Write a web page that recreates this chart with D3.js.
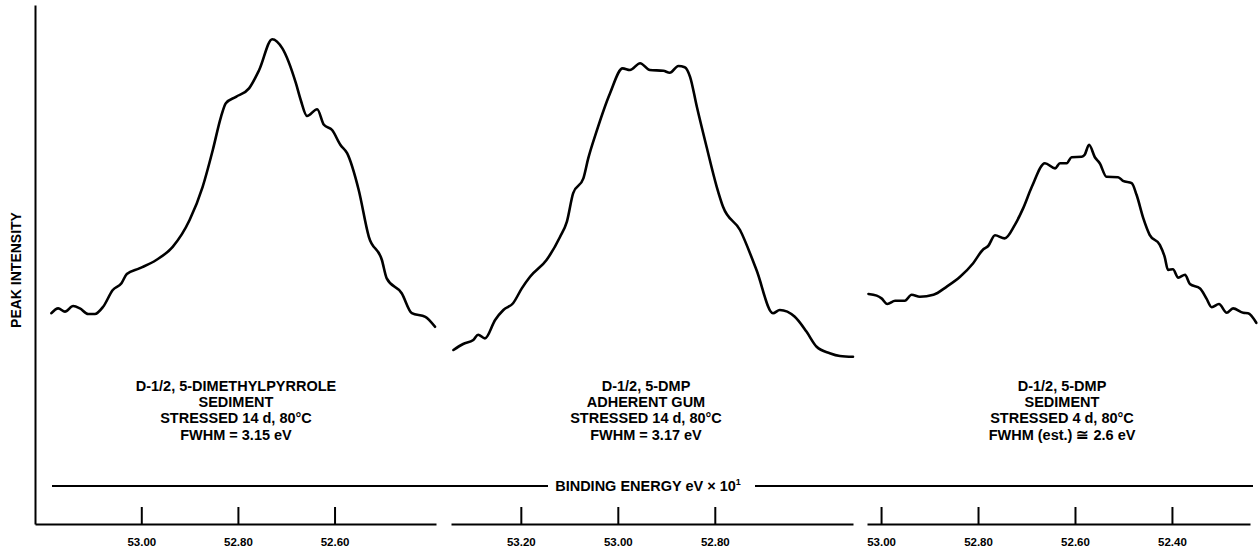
<!DOCTYPE html>
<html>
<head>
<meta charset="utf-8">
<script src="https://cdn.jsdelivr.net/npm/d3@7"></script>
<style>
  body { margin: 0; background: #fff; }
  svg text { font-family: "Liberation Sans", Arial, sans-serif; font-weight: bold; fill: #000; }
</style>
</head>
<body>
<div id="chart"></div>
<script>

// Binding energy (eV x 10) and peak intensity (arbitrary units).

var energy1 = [53.186, 53.172, 53.158, 53.141, 53.127, 53.110, 53.096, 53.079, 53.059, 53.041,
  53.030, 53.004, 52.969, 52.935, 52.900, 52.873, 52.852, 52.835, 52.825, 52.804,
  52.777, 52.756, 52.729, 52.708, 52.680, 52.670, 52.657, 52.636, 52.622, 52.605,
  52.588, 52.574, 52.550, 52.529, 52.502, 52.492, 52.461, 52.440, 52.412, 52.392];
var intensity1 = [21.7, 22.9, 22.1, 23.5, 22.9, 21.5, 21.5, 23.3, 27.5, 29.2,
  31.5, 32.9, 35.0, 38.3, 45.0, 53.3, 62.5, 70.8, 74.2, 75.8,
  77.9, 82.5, 90.2, 87.9, 79.2, 75.0, 71.0, 72.7, 68.8, 67.5,
  63.8, 61.7, 52.5, 40.8, 35.0, 30.4, 26.7, 21.7, 20.8, 18.3];

var energy2 = [53.339, 53.319, 53.298, 53.288, 53.274, 53.253, 53.236, 53.216, 53.198, 53.181,
  53.147, 53.119, 53.105, 53.092, 53.071, 53.061, 53.044, 53.016, 52.990, 52.975,
  52.954, 52.934, 52.906, 52.893, 52.875, 52.862, 52.851, 52.837, 52.817, 52.796,
  52.783, 52.748, 52.714, 52.680, 52.666, 52.635, 52.611, 52.590, 52.563, 52.542, 52.515];
var intensity2 = [12.5, 14.0, 15.0, 16.3, 15.4, 20.0, 22.5, 24.2, 27.9, 30.8,
  35.0, 40.8, 44.6, 51.7, 55.4, 60.4, 67.1, 76.7, 82.9, 82.5,
  84.2, 82.5, 82.3, 81.8, 83.5, 83.2, 80.8, 73.3, 63.3, 53.3,
  48.3, 42.5, 32.5, 21.7, 22.5, 20.8, 17.1, 13.3, 11.7, 11.0, 10.8];

var energy3 = [53.026, 53.009, 52.999, 52.987, 52.971, 52.951, 52.937, 52.920, 52.892, 52.865,
  52.837, 52.810, 52.789, 52.779, 52.765, 52.745, 52.724, 52.707, 52.689, 52.662,
  52.641, 52.631, 52.617, 52.607, 52.586, 52.580, 52.571, 52.559, 52.549, 52.535,
  52.511, 52.501, 52.483, 52.473, 52.459, 52.446, 52.425, 52.415, 52.408, 52.398,
  52.387, 52.373, 52.363, 52.342, 52.329, 52.318, 52.303, 52.287, 52.274, 52.253,
  52.243, 52.226];
var intensity3 = [26.5, 26.1, 25.4, 24.0, 24.8, 24.8, 26.3, 25.8, 26.3, 28.3,
  30.8, 34.2, 37.7, 38.5, 41.2, 40.4, 43.8, 47.9, 53.3, 59.2,
  57.9, 59.2, 59.2, 60.7, 60.8, 61.3, 63.8, 60.7, 59.2, 55.8,
  55.7, 54.8, 54.2, 51.3, 45.4, 41.3, 38.8, 35.8, 32.5, 32.7,
  30.6, 31.3, 29.0, 27.9, 25.4, 23.2, 24.0, 21.8, 22.9, 21.8,
  21.7, 19.3];

var ticks1 = [53.00, 52.80, 52.60];
var ticks2 = [53.20, 53.00, 52.80];
var ticks3 = [53.00, 52.80, 52.60, 52.40];

var labels1 = ['D-1/2, 5-DIMETHYLPYRROLE', 'SEDIMENT', 'STRESSED 14 d, 80°C', 'FWHM = 3.15 eV'];
var labels2 = ['D-1/2, 5-DMP', 'ADHERENT GUM', 'STRESSED 14 d, 80°C', 'FWHM = 3.17 eV'];
var labels3 = ['D-1/2, 5-DMP', 'SEDIMENT', 'STRESSED 4 d, 80°C', 'FWHM (est.) \u2245 2.6 eV'];

var width = 1259,
  height = 554;

var svg = d3.select('#chart')
  .append('svg')
  .attr('width', width)
  .attr('height', height);

var axisY = 524;

// Shared intensity scale for all three traces.

var yScale = d3.scaleLinear()
  .domain([0, 100])
  .range([400, 0]);

var panels = [
  { energy: energy1, intensity: intensity1, ticks: ticks1, labels: labels1, domain: [53.22, 52.39], range: [35, 436], labelX: 236 },
  { energy: energy2, intensity: intensity2, ticks: ticks2, labels: labels2, domain: [53.344, 52.515], range: [451, 853], labelX: 646 },
  { energy: energy3, intensity: intensity3, ticks: ticks3, labels: labels3, domain: [53.029, 52.239], range: [867, 1250], labelX: 1062 }
];

panels.forEach(function(p) {

  var xScale = d3.scaleLinear()
    .domain(p.domain)
    .range(p.range);

  // Bottom axis with ticks pointing up.

  var axis = svg.append('g')
    .attr('transform', 'translate(0,' + axisY + ')')
    .call(d3.axisBottom(xScale)
      .tickValues(p.ticks)
      .tickFormat(d3.format('.2f'))
      .tickSizeInner(-17)
      .tickSizeOuter(0)
      .tickPadding(14));

  axis.select('.domain').attr('stroke', '#000').attr('stroke-width', 2);
  axis.selectAll('.tick line').attr('stroke', '#000').attr('stroke-width', 2);
  axis.selectAll('.tick text')
    .attr('font-size', 11.5)
    .style('font-family', '"Liberation Sans", Arial, sans-serif')
    .style('font-weight', 'bold');

  var data = p.energy.map(function(e, i) {
    return { e: e, v: p.intensity[i] };
  });

  var line = d3.line()
    .x(function(d) { return xScale(d.e); })
    .y(function(d) { return yScale(d.v); })
    .curve(d3.curveMonotoneX);

  svg.append('path')
    .datum(data)
    .attr('fill', 'none')
    .attr('stroke', '#000')
    .attr('stroke-width', 2.6)
    .attr('stroke-linejoin', 'round')
    .attr('stroke-linecap', 'round')
    .attr('d', line);

  svg.append('g')
    .selectAll('text')
    .data(p.labels)
    .enter()
    .append('text')
    .attr('x', p.labelX)
    .attr('y', function(d, i) { return 391 + i * 16.2; })
    .attr('text-anchor', 'middle')
    .attr('font-size', 14.5)
    .text(function(d) { return d; });
});

// Vertical intensity axis (no ticks).

var yAxisScale = d3.scaleLinear().domain([0, 1]).range([axisY, 5]);

var yAxis = svg.append('g')
  .attr('transform', 'translate(35,0)')
  .call(d3.axisLeft(yAxisScale).tickValues([]).tickSizeOuter(0));

yAxis.select('.domain').attr('stroke', '#000').attr('stroke-width', 2);

svg.append('text')
  .attr('transform', 'translate(21,270) rotate(-90)')
  .attr('text-anchor', 'middle')
  .attr('font-size', 14)
  .text('PEAK INTENSITY');

// Binding energy caption line.

svg.append('line')
  .attr('x1', 52).attr('x2', 548)
  .attr('y1', 486).attr('y2', 486)
  .attr('stroke', '#000').attr('stroke-width', 2);

svg.append('line')
  .attr('x1', 755).attr('x2', 1253)
  .attr('y1', 486).attr('y2', 486)
  .attr('stroke', '#000').attr('stroke-width', 2);

var caption = svg.append('text')
  .attr('x', 648)
  .attr('y', 491)
  .attr('text-anchor', 'middle')
  .attr('font-size', 14.5);

caption.append('tspan').text('BINDING ENERGY eV \u00d7 10');
caption.append('tspan').attr('dy', -6).attr('font-size', 9).text('1');

</script>
</body>
</html>
